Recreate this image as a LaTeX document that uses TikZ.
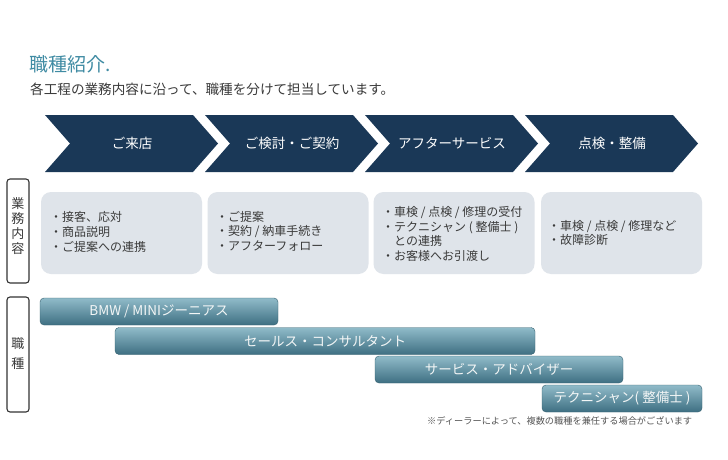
\documentclass[tikz,border=0pt]{standalone}
\usepackage{fontspec}
\setmainfont{Noto Sans CJK JP}
\definecolor{navy}{HTML}{1A3857}
\definecolor{boxfill}{HTML}{DFE4EA}
\definecolor{bodytext}{HTML}{3A3A3A}
\definecolor{titlecol}{HTML}{3F8BA3}
\definecolor{bartop}{HTML}{90BBC9}
\definecolor{barbot}{HTML}{3E6F82}
\definecolor{barline}{HTML}{35606F}
\definecolor{labelline}{HTML}{333333}
\definecolor{notecol}{HTML}{555555}
\begin{document}
\begin{tikzpicture}[x=1pt,y=-1pt,
  chev/.style={fill=navy},
  chevtext/.style={text=white,font=\fontsize{13.5}{16}\selectfont,inner sep=0pt},
  taskbox/.style={fill=boxfill,rounded corners=10pt,minimum width=161pt,minimum height=82pt,inner sep=0pt},
  tasktext/.style={text=bodytext,font=\fontsize{12}{14.6}\selectfont,align=left,anchor=west,inner sep=0pt},
  sidelabel/.style={draw=labelline,line width=1.1pt,rounded corners=3pt,minimum width=22pt,inner sep=0pt},
  sidetext/.style={text=bodytext,align=center,inner sep=0pt},
  rolebar/.style={top color=bartop,bottom color=barbot,draw=barline,line width=0.4pt,rounded corners=4pt,minimum height=27pt,inner sep=0pt,text=white!94!barline,font=\fontsize{13.5}{16}\selectfont}
]
\useasboundingbox (0,0) rectangle (728,460);
\fill[white] (0,0) rectangle (728,460);

% title
\node[anchor=west,inner sep=0pt,text=titlecol,font=\fontsize{19}{21}\selectfont] (title) at (29,64) {職種紹介.};
\node[anchor=west,inner sep=0pt,text=bodytext,font=\fontsize{13.6}{15}\selectfont] (subtitle) at (30,89) {各工程の業務内容に沿って、職種を分けて担当しています。};

% chevrons
\foreach \i/\t in {0/ご来店,1/ご検討・ご契約,2/アフターサービス,3/点検・整備}{
  \pgfmathsetmacro{\L}{45+160*\i}
  \fill[chev] (\L,115) -- (\L+148,115) -- (\L+173,143.5) -- (\L+148,172) -- (\L,172) -- (\L+25,143.5) -- cycle;
  \node[chevtext] (chev\i) at (\L+87,143.5) {\t};
}

% task boxes
\node[taskbox] (box0) at (121.5,233) {};
\node[taskbox] (box1) at (288,233) {};
\node[taskbox] (box2) at (454,233) {};
\node[taskbox] (box3) at (621.5,233) {};
\node[tasktext] (txt0) at (50,232) {・接客、応対\\・商品説明\\・ご提案への連携};
\node[tasktext] (txt1) at (216,231) {・ご提案\\・契約 / 納車手続き\\・アフターフォロー};
\node[tasktext] (txt2) at (382,234) {・車検 / 点検 / 修理の受付\\・テクニシャン ( 整備士 )\\　との連携\\・お客様へお引渡し};
\node[tasktext] (txt3) at (548,233) {・車検 / 点検 / 修理など\\・故障診断};

% side labels
\node[sidelabel,minimum height=104pt] (lab1) at (18,231) {};
\node[sidetext,font=\fontsize{13}{15}\selectfont] (lab1t) at (18,226) {業\\務\\内\\容};
\node[sidelabel,minimum height=115pt] (lab2) at (18,354.5) {};
\node[sidetext,font=\fontsize{13}{20}\selectfont] (lab2t) at (18,354) {職\\種};

% role bars
\node[rolebar,minimum width=238pt] (bar1) at (159,311.5) {BMW / MINIジーニアス};
\node[rolebar,minimum width=420pt] (bar2) at (325,341) {セールス・コンサルタント};
\node[rolebar,minimum width=248pt] (bar3) at (499,369.5) {サービス・アドバイザー};
\node[rolebar,minimum width=160pt] (bar4) at (622,398.5) {テクニシャン( 整備士 )};

% footnote
\node[anchor=west,inner sep=0pt,text=notecol,font=\fontsize{9.2}{11}\selectfont] (note) at (427,421) {※ディーラーによって、複数の職種を兼任する場合がございます};
\end{tikzpicture}
\end{document}
